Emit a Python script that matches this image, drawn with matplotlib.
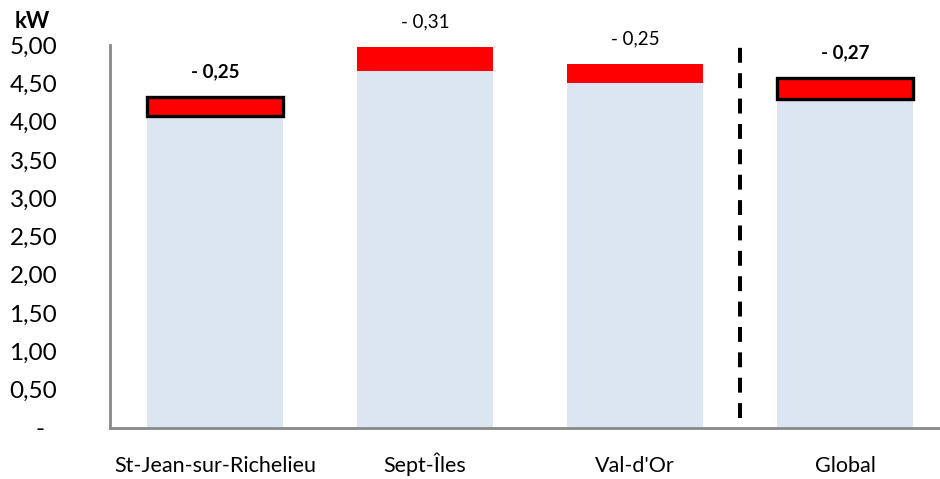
import matplotlib.pyplot as plt
import numpy as np

plt.rcParams['font.family'] = ['Lato', 'DejaVu Sans']

categories = ["St-Jean-sur-Richelieu", "Sept-Îles", "Val-d'Or", "Global"]
base_values = [4.07, 4.66, 4.51, 4.30]
reduction_values = [0.25, 0.31, 0.25, 0.27]
reduction_labels = ["- 0,25", "- 0,31", "- 0,25", "- 0,27"]
highlighted = [True, False, False, True]
y_ticks = [0, 0.5, 1.0, 1.5, 2.0, 2.5, 3.0, 3.5, 4.0, 4.5, 5.0]

if __name__ == "__main__":
    fig = plt.figure(figsize=(9.4, 4.79), dpi=100)
    ax = fig.add_axes([110 / 940, 51.3 / 479, 840 / 940, 382.5 / 479])

    x = np.arange(len(categories))
    width = 0.65
    ax.bar(x, base_values, width=width, color="#DCE6F2", zorder=1)

    for idx in range(len(categories)):
        if highlighted[idx]:
            ax.bar(x[idx], reduction_values[idx], width=width, bottom=base_values[idx],
                   color="#FF0000", edgecolor="black", linewidth=2.4, zorder=3)
            weight = "bold"
        else:
            ax.bar(x[idx], reduction_values[idx], width=width, bottom=base_values[idx],
                   color="#FF0000", zorder=2)
            weight = "normal"
        top = base_values[idx] + reduction_values[idx]
        ax.annotate(reduction_labels[idx], xy=(x[idx], top), xytext=(0, 12),
                    textcoords="offset points", ha="center", va="bottom",
                    fontsize=13.5, fontweight=weight, color="black")

    # separator between sites and global
    ax.plot([2.5, 2.5], [0.13, 5.0], color="black", linewidth=2.9,
            linestyle=(0, (3.7, 2.6)), zorder=4, clip_on=False)

    ax.set_xlim(-0.5, 3.5)
    ax.set_ylim(0, 5)
    ax.set_xticks(x)
    ax.set_xticklabels(categories, fontsize=15.5)
    for lbl in ax.get_xticklabels():
        lbl.set_va("baseline")
    ax.set_yticks(y_ticks)
    ax.set_yticklabels(["-  "] + ["{:.2f}".format(v).replace(".", ",") for v in y_ticks[1:]], fontsize=17.5)
    ax.tick_params(axis="y", length=0, pad=38)
    ax.tick_params(axis="x", length=0, pad=32)

    for side in ["top", "right"]:
        ax.spines[side].set_visible(False)
    ax.spines["left"].set_color("#898989")
    ax.spines["bottom"].set_color("#898989")
    ax.spines["left"].set_linewidth(2)
    ax.spines["bottom"].set_linewidth(2)

    fig.text(15 / 940, 1 - 21 / 479, "kW", fontsize=16, fontweight="bold", va="center", ha="left")

    plt.savefig("out.png", dpi=100)
